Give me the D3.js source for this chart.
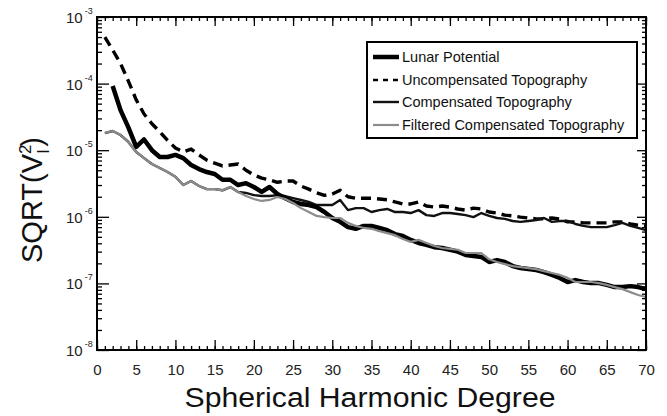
<!DOCTYPE html>
<html>
<head>
<meta charset="utf-8">
<script src="https://cdn.jsdelivr.net/npm/d3@7"></script>
<style>
	body { margin: 0; background: white; }
	svg { display: block; font-family: "Liberation Sans", Arial, Helvetica, sans-serif; }
</style>
</head>
<body>
<script>

// DATA
const degrees = d3.range(1, 71);
const potentialDegrees = d3.range(2, 71);

const uncompensated = [
	5.0e-4, 3.2e-4, 2.0e-4, 1.09e-4, 5.7e-5, 3.5e-5, 2.5e-5, 1.9e-5, 1.4e-5, 1.08e-5,
	9.4e-6, 1.04e-5, 8.5e-6, 7.1e-6, 6.4e-6, 5.8e-6, 6.0e-6, 6.2e-6, 5.0e-6, 4.25e-6,
	3.8e-6, 3.6e-6, 3.3e-6, 3.45e-6, 3.45e-6, 2.9e-6, 2.6e-6, 2.3e-6, 2.1e-6, 2.2e-6,
	2.5e-6, 2.0e-6, 1.9e-6, 1.9e-6, 1.9e-6, 1.85e-6, 1.8e-6, 1.67e-6, 1.56e-6, 1.56e-6,
	1.67e-6, 1.45e-6, 1.4e-6, 1.45e-6, 1.4e-6, 1.31e-6, 1.26e-6, 1.35e-6, 1.31e-6, 1.18e-6,
	1.14e-6, 1.06e-6, 1.03e-6, 9.9e-7, 9.6e-7, 9.3e-7, 9.3e-7, 9.6e-7, 9.3e-7, 8.4e-7,
	8.4e-7, 8.1e-7, 8.1e-7, 8.1e-7, 8.1e-7, 8.4e-7, 8.4e-7, 7.8e-7, 7.5e-7, 7.3e-7
];

// starts at degree 2
const potential = [
	9.2e-5, 4.0e-5, 2.2e-5, 1.12e-5, 1.45e-5, 1.0e-5, 7.9e-6, 7.9e-6, 8.5e-6,
	7.6e-6, 6.0e-6, 5.2e-6, 4.7e-6, 4.4e-6, 3.6e-6, 3.6e-6, 3.0e-6, 3.2e-6, 2.8e-6,
	2.36e-6, 2.8e-6, 2.2e-6, 1.9e-6, 1.67e-6, 1.56e-6, 1.5e-6, 1.4e-6, 1.18e-6, 9.6e-7,
	8.4e-7, 7.0e-7, 6.6e-7, 7.3e-7, 7.3e-7, 6.8e-7, 6.3e-7, 5.5e-7, 5.15e-7, 4.5e-7,
	4.05e-7, 3.8e-7, 3.5e-7, 3.4e-7, 3.2e-7, 3.0e-7, 2.67e-7, 2.58e-7, 2.5e-7, 2.1e-7,
	2.24e-7, 2.1e-7, 1.82e-7, 1.7e-7, 1.64e-7, 1.59e-7, 1.48e-7, 1.34e-7, 1.21e-7, 1.05e-7,
	1.12e-7, 1.05e-7, 1.01e-7, 1.01e-7, 9.5e-8, 8.8e-8, 8.8e-8, 9.1e-8, 8.8e-8, 8.2e-8
];

const compensated = [
	1.81e-5, 1.94e-5, 1.69e-5, 1.33e-5, 9.4e-6, 7.6e-6, 6.2e-6, 5.4e-6, 4.7e-6, 4.0e-6,
	3.0e-6, 3.45e-6, 2.9e-6, 2.6e-6, 2.6e-6, 2.5e-6, 2.8e-6, 2.36e-6, 2.28e-6, 2.12e-6,
	2.05e-6, 2.05e-6, 2.12e-6, 2.05e-6, 1.91e-6, 1.79e-6, 1.67e-6, 1.5e-6, 1.5e-6, 1.5e-6,
	1.79e-6, 1.26e-6, 1.35e-6, 1.35e-6, 1.18e-6, 1.26e-6, 1.31e-6, 1.18e-6, 1.18e-6, 1.14e-6,
	1.26e-6, 1.06e-6, 1.03e-6, 1.14e-6, 1.14e-6, 1.10e-6, 1.06e-6, 9.9e-7, 1.14e-6, 1.03e-6,
	9.6e-7, 9.3e-7, 8.65e-7, 8.4e-7, 8.65e-7, 8.95e-7, 9.6e-7, 8.4e-7, 8.65e-7, 8.65e-7,
	7.8e-7, 7.3e-7, 7.0e-7, 7.0e-7, 7.0e-7, 7.5e-7, 8.1e-7, 7.3e-7, 6.8e-7, 6.3e-7
];

const filtered = [
	1.81e-5, 1.94e-5, 1.69e-5, 1.33e-5, 9.4e-6, 7.6e-6, 6.2e-6, 5.4e-6, 4.7e-6, 4.0e-6,
	3.0e-6, 3.45e-6, 2.9e-6, 2.6e-6, 2.6e-6, 2.5e-6, 2.8e-6, 2.36e-6, 2.05e-6, 1.85e-6,
	1.73e-6, 1.79e-6, 1.98e-6, 1.85e-6, 1.61e-6, 1.35e-6, 1.18e-6, 1.03e-6, 9.9e-7, 9.6e-7,
	9.6e-7, 8.1e-7, 7.3e-7, 6.8e-7, 6.6e-7, 6.1e-7, 5.7e-7, 5.3e-7, 4.65e-7, 4.2e-7,
	4.5e-7, 4.05e-7, 3.65e-7, 3.4e-7, 3.3e-7, 3.2e-7, 2.86e-7, 2.86e-7, 2.86e-7, 2.3e-7,
	2.1e-7, 1.95e-7, 1.82e-7, 1.76e-7, 1.7e-7, 1.64e-7, 1.53e-7, 1.43e-7, 1.34e-7, 1.21e-7,
	1.05e-7, 1.05e-7, 1.05e-7, 1.01e-7, 9.5e-8, 8.8e-8, 8.2e-8, 7.4e-8, 6.7e-8, 6.25e-8
];

// ticks
const xTicks = [0, 5, 10, 15, 20, 25, 30, 35, 40, 45, 50, 55, 60, 65, 70];
const yTicks = [1e-8, 1e-7, 1e-6, 1e-5, 1e-4, 1e-3];
const yTickExponents = ["-8", "-7", "-6", "-5", "-4", "-3"];

const legendLabels = [
	"Lunar Potential",
	"Uncompensated Topography",
	"Compensated Topography",
	"Filtered Compensated Topography"
];


// CHART
const w = 667;
const h = 416;
const pLeft = 97, pRight = 646, pTop = 17, pBottom = 350;

const svg = d3.select("body").append("svg")
	.attr("width", w)
	.attr("height", h)
	.style("background-color", "white");

// scales
const xScale = d3.scaleLinear().domain([0, 70]).range([pLeft, pRight]);
const yScale = d3.scaleLog().domain([1e-8, 1e-3]).range([pBottom, pTop]);

// styles per series
const styles = [
	{ width: 4.5, color: "#000", dash: null },
	{ width: 3.4, color: "#000", dash: "10,6" },
	{ width: 2.4, color: "#111", dash: null },
	{ width: 2.2, color: "#8c8c8c", dash: null }
];

const line = d3.line()
	.x(d => xScale(d[0]))
	.y(d => yScale(d[1]));

const series = [
	{ pts: d3.zip(degrees, uncompensated), s: styles[1] },
	{ pts: d3.zip(degrees, compensated), s: styles[2] },
	{ pts: d3.zip(potentialDegrees, potential), s: styles[0] },
	{ pts: d3.zip(degrees, filtered), s: styles[3] }
];

const plot = svg.append("g");
series.forEach(sr => {
	plot.append("path")
		.attr("d", line(sr.pts))
		.attr("fill", "none")
		.attr("stroke", sr.s.color)
		.attr("stroke-width", sr.s.width)
		.attr("stroke-dasharray", sr.s.dash)
		.attr("stroke-linejoin", "round");
});

// axes: ticks inside the frame
const minorX = d3.range(0, 71);
const minorY = yScale.ticks().filter(v => !yTicks.some(t => Math.abs(t - v) / t < 1e-6));

function tickStyle(g) {
	g.select(".domain").remove();
	g.selectAll("line").attr("stroke", "#000").attr("stroke-width", 1.3);
}

svg.append("g").attr("transform", `translate(0,${pBottom})`)
	.call(d3.axisBottom(xScale).tickValues(minorX).tickSize(-4).tickFormat(""))
	.call(tickStyle);
svg.append("g").attr("transform", `translate(0,${pBottom})`)
	.call(d3.axisBottom(xScale).tickValues(xTicks).tickSize(-10).tickPadding(14))
	.call(tickStyle)
	.call(g => g.selectAll("text")
		.attr("font-size", 15)
		.attr("fill", "#222")
		.attr("font-family", "Liberation Sans, Arial, sans-serif"));

svg.append("g").attr("transform", `translate(0,${pTop})`)
	.call(d3.axisTop(xScale).tickValues(minorX).tickSize(-4).tickFormat(""))
	.call(tickStyle);
svg.append("g").attr("transform", `translate(0,${pTop})`)
	.call(d3.axisTop(xScale).tickValues(xTicks).tickSize(-9).tickFormat(""))
	.call(tickStyle);

svg.append("g").attr("transform", `translate(${pLeft},0)`)
	.call(d3.axisLeft(yScale).tickValues(minorY).tickSize(-5).tickFormat(""))
	.call(tickStyle);
svg.append("g").attr("transform", `translate(${pLeft},0)`)
	.call(d3.axisLeft(yScale).tickValues(yTicks).tickSize(-12).tickFormat(""))
	.call(tickStyle);

svg.append("g").attr("transform", `translate(${pRight},0)`)
	.call(d3.axisRight(yScale).tickValues(minorY).tickSize(-4).tickFormat(""))
	.call(tickStyle);
svg.append("g").attr("transform", `translate(${pRight},0)`)
	.call(d3.axisRight(yScale).tickValues(yTicks).tickSize(-9).tickFormat(""))
	.call(tickStyle);

// y tick labels 10^n
const yLab = svg.append("g").selectAll("text")
	.data(yTicks)
	.enter()
	.append("text")
		.attr("x", pLeft - 31)
		.attr("y", d => yScale(d) + 6)
		.attr("font-size", 15)
		.attr("fill", "#222");
yLab.append("tspan").text("10");
yLab.append("tspan")
	.attr("dx", 2)
	.attr("dy", -9)
	.attr("font-size", 9)
	.text((d, i) => yTickExponents[i]);

// frame
svg.append("rect")
	.attr("x", pLeft)
	.attr("y", pTop)
	.attr("width", pRight - pLeft)
	.attr("height", pBottom - pTop)
	.attr("fill", "none")
	.attr("stroke", "#000")
	.attr("stroke-width", 2);

// axis titles
svg.append("text")
	.attr("x", 370)
	.attr("y", 407)
	.attr("text-anchor", "middle")
	.attr("font-size", 27)
	.attr("fill", "#111")
	.attr("textLength", 371)
	.attr("lengthAdjust", "spacingAndGlyphs")
	.text("Spherical Harmonic Degree");

const yTitle = svg.append("text")
	.attr("transform", "translate(42,263) rotate(-90)")
	.attr("font-size", 29)
	.attr("fill", "#111");
yTitle.append("tspan").text("SQRT(V");
yTitle.append("tspan").attr("font-size", 17).attr("dy", -11).text("2");
yTitle.append("tspan").attr("font-size", 17).attr("dx", -9).attr("dy", 18).text("l");
yTitle.append("tspan").attr("dx", 3).attr("dy", -7).text(")");

// legend
const legend = svg.append("g");
legend.append("rect")
	.attr("x", 367)
	.attr("y", 42)
	.attr("width", 270)
	.attr("height", 96)
	.attr("fill", "white")
	.attr("stroke", "#000")
	.attr("stroke-width", 2);

const legendY = [57, 80, 102, 125];
const legendStyles = [styles[0], { width: 2.5, color: "#000", dash: "5,5" }, styles[2], styles[3]];
legendLabels.forEach((lab, i) => {
	legend.append("line")
		.attr("x1", 373).attr("x2", 399)
		.attr("y1", legendY[i]).attr("y2", legendY[i])
		.attr("stroke", legendStyles[i].color)
		.attr("stroke-width", legendStyles[i].width)
		.attr("stroke-dasharray", legendStyles[i].dash);
	legend.append("text")
		.attr("x", 402)
		.attr("y", legendY[i] + 5)
		.attr("font-size", 14.5)
		.attr("fill", "#111")
		.text(lab);
});

</script>
</body>
</html>
